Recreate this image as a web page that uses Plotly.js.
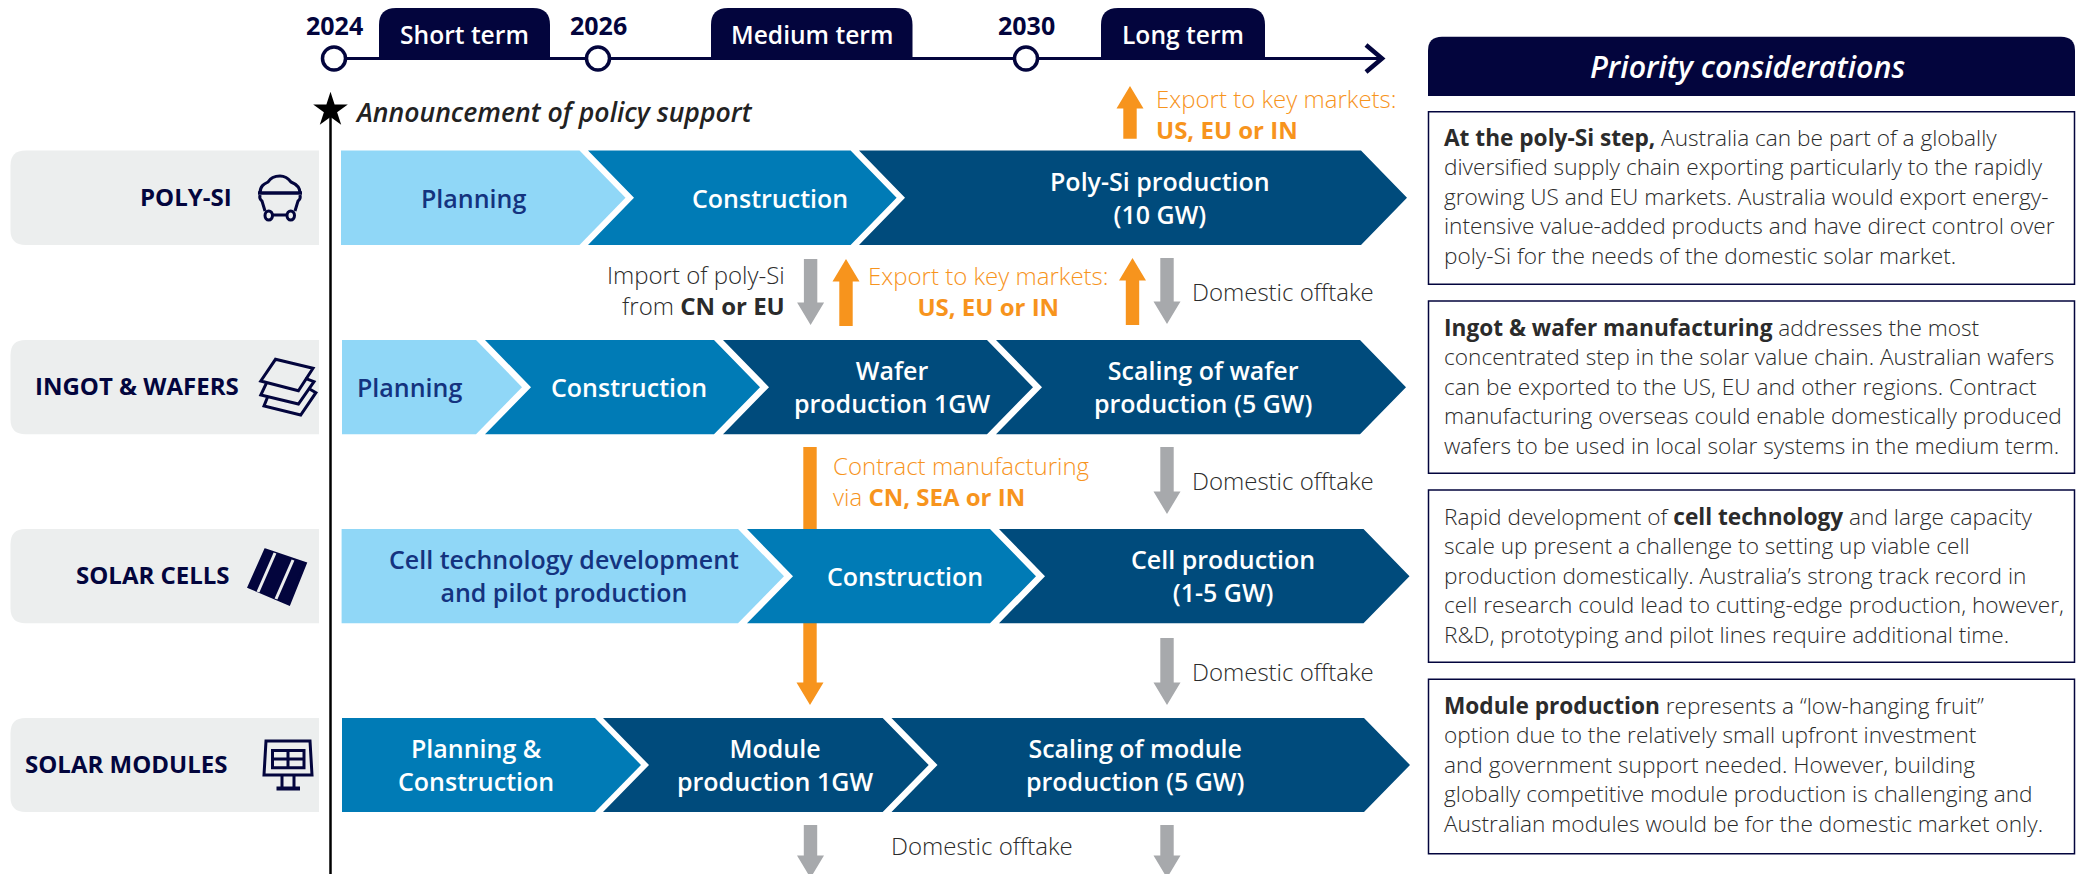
<!DOCTYPE html>
<html>
<head>
<meta charset="utf-8">
<script src="https://cdn.plot.ly/plotly-3.0.1.min.js"></script>
<style>html,body{margin:0;padding:0;background:#fff;overflow:hidden}#chart{width:2076px;height:874px}</style>
</head>
<body>
<div id="chart"></div>
<script>
// ---------- content ----------
const years = ['2024', '2026', '2030'];
const yearPositions = [334, 598, 1026];
const terms = ['Short term', 'Medium term', 'Long term'];
const termStarts = [379, 711, 1101];
const termEnds = [550, 912.5, 1265];

const rowLabels = ['POLY-SI', 'INGOT & WAFERS', 'SOLAR CELLS', 'SOLAR MODULES'];
const rowTops = [150.5, 340, 529, 718];
const rowBottoms = [245, 434.3, 623.3, 812];
const rowLabelEnds = [232, 239, 230, 227];

const polySiStages = ['Planning', 'Construction', 'Poly-Si production<br>(10 GW)'];
const polySiTones = ['light', 'mid', 'dark'];
const polySiStarts = [341, 588, 859];
const polySiEnds = [579.5, 850.6, 1361];
const polySiCentres = [473, 769.5, 1160];

const waferStages = ['Planning', 'Construction', 'Wafer<br>production 1GW', 'Scaling of wafer<br>production (5 GW)'];
const waferTones = ['light', 'mid', 'dark', 'dark'];
const waferStarts = [342, 485, 723, 996];
const waferEnds = [476, 714, 987, 1360];
const waferCentres = [409.5, 629, 892, 1202.7];

const cellStages = ['Cell technology development<br>and pilot production', 'Construction', 'Cell production<br>(1-5 GW)'];
const cellTones = ['light', 'mid', 'dark'];
const cellStarts = [341.6, 747, 999];
const cellEnds = [738, 990, 1363.5];
const cellCentres = [564, 905, 1223.4];

const moduleStages = ['Planning &<br>Construction', 'Module<br>production 1GW', 'Scaling of module<br>production (5 GW)'];
const moduleTones = ['mid', 'dark', 'dark'];
const moduleStarts = [342, 603, 891.5];
const moduleEnds = [595, 882.7, 1364];
const moduleCentres = [476, 775, 1134.8];

// flows: x, from y, to y, tone
const flowX     = [1130, 810.6, 846, 1132.5, 1167, 810, 1167, 810, 1167, 810.5, 1167];
const flowFrom  = [138.7, 259, 326, 325, 258, 447, 447, 623, 638, 825, 825];
const flowTo    = [86, 325, 259, 258, 324, 529, 514, 705, 705, 878, 878];
const flowTones = ['o', 'g', 'o', 'o', 'g', 'bar', 'g', 'o', 'g', 'g', 'g'];

const considerationsTitle = 'Priority considerations';
const boxTops = [111.7, 301, 490, 679.3];
const boxBottoms = [284.3, 473.3, 662.3, 853.7];
const polySiText = ['<b>At the poly-Si step,</b> Australia can be part of a globally',
  'diversified supply chain exporting particularly to the rapidly',
  'growing US and EU markets. Australia would export energy-',
  'intensive value-added products and have direct control over',
  'poly-Si for the needs of the domestic solar market.'];
const waferText = ['<b>Ingot & wafer manufacturing</b> addresses the most',
  'concentrated step in the solar value chain. Australian wafers',
  'can be exported to the US, EU and other regions. Contract',
  'manufacturing overseas could enable domestically produced',
  'wafers to be used in local solar systems in the medium term.'];
const cellText = ['Rapid development of <b>cell technology</b> and large capacity',
  'scale up present a challenge to setting up viable cell',
  'production domestically. Australia’s strong track record in',
  'cell research could lead to cutting-edge production, however,',
  'R&D, prototyping and pilot lines require additional time.'];
const moduleText = ['<b>Module production</b> represents a “low-hanging fruit”',
  'option due to the relatively small upfront investment',
  'and government support needed. However, building',
  'globally competitive module production is challenging and',
  'Australian modules would be for the domestic market only.'];

// ---------- styling ----------
const NAVY = '#03053d', ORANGE = '#f7941d', GREY = '#a7a9ac', BODY = '#2b2b2b';
const TONE = {light: '#90d7f7', mid: '#007bb6', dark: '#004b7c'};
const TONE_TEXT = {light: '#14337f', mid: '#ffffff', dark: '#ffffff'};
const FONT = 'Open Sans';
const DEPTH = 46, NUDGE = -0.75;

const traces = [], shapes = [], annotations = [];

function label(text, x, y, size, color, anchor, weight, style) {
  annotations.push({text, x, y: y + NUDGE, xref: 'x', yref: 'y', showarrow: false, xanchor: anchor, yanchor: 'middle',
    borderpad: 0, borderwidth: 0, align: anchor,
    font: {family: FONT, size, color, weight: weight || 400, style: style || 'normal'}});
}

function rounded(x0, x1, y0, y1, r, fill) { // rounded top corners
  shapes.push({type: 'path', xref: 'x', yref: 'y', layer: 'below', fillcolor: fill, line: {width: 0},
    path: `M${x0},${y1} L${x0},${y0 + r} Q${x0},${y0} ${x0 + r},${y0} L${x1 - r},${y0} Q${x1},${y0} ${x1},${y0 + r} L${x1},${y1} Z`});
}

function polygon(name, xs, ys, fill) {
  traces.push({type: 'scatter', mode: 'lines', name, x: xs.concat(xs[0]), y: ys.concat(ys[0]), fill: 'toself',
    fillcolor: fill, line: {width: 0, color: fill}, hoverinfo: 'skip', showlegend: false});
}

// row backgrounds
rowTops.forEach((top, i) => {
  const bot = rowBottoms[i], x0 = 10.5, x1 = 319, r = 15;
  shapes.push({type: 'path', xref: 'x', yref: 'y', layer: 'below', fillcolor: '#eceeee', line: {width: 0},
    path: `M${x1},${top} L${x0 + r},${top} Q${x0},${top} ${x0},${top + r} L${x0},${bot - r} Q${x0},${bot} ${x0 + r},${bot} L${x1},${bot} Z`});
  label(rowLabels[i], rowLabelEnds[i], (top + bot) / 2 - 1, 24, NAVY, 'right', 700);
});

// timeline
traces.push({type: 'scatter', mode: 'lines', name: 'timeline', x: [334, 1382], y: [58.5, 58.5],
  line: {color: NAVY, width: 3}, hoverinfo: 'skip', showlegend: false});
traces.push({type: 'scatter', mode: 'lines', name: 'timeline head', x: [1366, 1382, 1366], y: [45, 58.5, 72],
  line: {color: NAVY, width: 4.5}, hoverinfo: 'skip', showlegend: false});
traces.push({type: 'scatter', mode: 'markers', name: 'years', x: yearPositions, y: yearPositions.map(() => 58.5),
  marker: {size: 23, color: '#ffffff', line: {color: NAVY, width: 3.5}}, hoverinfo: 'skip', showlegend: false});
years.forEach((y, i) => label(y, yearPositions[i], 25.25, 25, NAVY, 'center', 700));
terms.forEach((t, i) => {
  rounded(termStarts[i], termEnds[i], 8, 60, 17, NAVY);
  label(t, (termStarts[i] + termEnds[i]) / 2, 34.75, 24.6, '#ffffff', 'center', 600);
});

// policy marker
shapes.push({type: 'line', xref: 'x', yref: 'y', x0: 330.5, x1: 330.5, y0: 115, y1: 874, line: {color: '#000000', width: 2.5}});
traces.push({type: 'scatter', mode: 'markers', name: 'policy', x: [330.5], y: [110], marker: {symbol: 'star', size: 26, color: '#000000'},
  hoverinfo: 'skip', showlegend: false});
label('Announcement of policy support', 355, 112.25, 26.6, '#222222', 'left', 600, 'italic');

// flows (below the chevrons)
flowX.forEach((x, i) => {
  const from = flowFrom[i], to = flowTo[i], tone = flowTones[i];
  const fill = tone === 'g' ? GREY : ORANGE;
  const s = 6.7;
  if (tone === 'bar') { polygon('flow', [x - s, x + s, x + s, x - s], [from, from, to, to], fill); return; }
  const dir = Math.sign(to - from), base = to - dir * 22.5, h = 13.5;
  polygon('flow', [x - s, x + s, x + s, x + h, x, x - h, x - s], [from, from, base, base, to, base, base], fill);
});

// stages
function stageRow(row, stages, tones, starts, ends, centres) {
  const top = rowTops[row], bot = rowBottoms[row], mid = (top + bot) / 2;
  stages.forEach((st, i) => {
    const xs = [starts[i], ends[i], ends[i] + DEPTH, ends[i], starts[i]];
    const ys = [top, top, mid, bot, bot];
    if (i > 0) { xs.push(starts[i] + DEPTH); ys.push(mid); }
    polygon(st.replace('<br>', ' '), xs, ys, TONE[tones[i]]);
    label(st, centres[i], mid + 0.5, 25, TONE_TEXT[tones[i]], 'center', 600);
  });
}
stageRow(0, polySiStages, polySiTones, polySiStarts, polySiEnds, polySiCentres);
stageRow(1, waferStages, waferTones, waferStarts, waferEnds, waferCentres);
stageRow(2, cellStages, cellTones, cellStarts, cellEnds, cellCentres);
stageRow(3, moduleStages, moduleTones, moduleStarts, moduleEnds, moduleCentres);

// flow captions
const LIGHT = 300, CAP = 24;
label('Export to key markets:<br><b>US, EU or IN</b>', 1155.5, 114.5, CAP, ORANGE, 'left', LIGHT);
label('Import of poly-Si<br>from <b>CN or EU</b>', 785, 291, CAP, BODY, 'right', LIGHT);
label('Export to key markets:<br><b>US, EU or IN</b>', 988, 291.5, CAP, ORANGE, 'center', LIGHT);
label('Contract manufacturing<br>via <b>CN, SEA or IN</b>', 833, 482, CAP, ORANGE, 'left', LIGHT);
label('Domestic offtake', 1191.7, 292, CAP, BODY, 'left', LIGHT);
label('Domestic offtake', 1191.7, 481.7, CAP, BODY, 'left', LIGHT);
label('Domestic offtake', 1191.7, 672, CAP, BODY, 'left', LIGHT);
label('Domestic offtake', 891, 846, CAP, BODY, 'left', LIGHT);

// right panel
rounded(1428, 2075, 36.7, 96, 14, NAVY);
label(considerationsTitle, 1747, 66.75, 30.4, '#ffffff', 'center', 600, 'italic');
[polySiText, waferText, cellText, moduleText].forEach((lines, i) => {
  shapes.push({type: 'rect', xref: 'x', yref: 'y', x0: 1428.5, x1: 2074.5, y0: boxTops[i], y1: boxBottoms[i],
    line: {color: NAVY, width: 1.5}, fillcolor: 'rgba(0,0,0,0)'});
  label(lines.join('<br>'), 1444.4, boxTops[i] + 27.5 + 2 * 29.2, 22.65, BODY, 'left', LIGHT);
});

// icons
function icon(path, opts) {
  shapes.push(Object.assign({type: 'path', xref: 'x', yref: 'y', path, line: {color: NAVY, width: 3}, fillcolor: 'rgba(0,0,0,0)'}, opts || {}));
}
// mine cart
icon('M260,193 C260,186 264,184 268,182 C271,177 276,176 280,176 C285,176 288,178 291,182 C296,184 300,187 300,193');
icon('M258,193 L302,193', {line: {color: NAVY, width: 3.5}});
icon('M260,195 C259,199 261,200 262,201 L265,211 M300,195 C301,199 299,200 298,201 L295,211');
icon('M272,215 L287,215');
shapes.push({type: 'circle', xref: 'x', yref: 'y', x0: 265, x1: 272.5, y0: 211, y1: 220, line: {color: NAVY, width: 3}, fillcolor: 'rgba(0,0,0,0)'});
shapes.push({type: 'circle', xref: 'x', yref: 'y', x0: 287, x1: 294.5, y0: 211, y1: 220, line: {color: NAVY, width: 3}, fillcolor: 'rgba(0,0,0,0)'});
// wafers
icon('M275.5,359.3 L313,368.3 L298.4,390.7 L260.8,381 Z');
icon('M266.3,383.3 L260.8,395 L298.4,404 L314,381.7 L305.3,378.3');
icon('M267.7,396.7 L264,406 L300.7,415 L315.9,392.7 L310,389.3');
// cell
icon('M265.4,550 L305.3,563.3 L289,604 L249,587 Z', {fillcolor: NAVY, line: {color: NAVY, width: 3}});
icon('M275,553 L258,592', {line: {color: '#eceeee', width: 3}});
icon('M293,560 L276,599', {line: {color: '#eceeee', width: 3}});
// panel
icon('M266,741 L310,741 L312,775 L264,775 Z');
icon('M272.5,750.5 L304,750.5 L304,767.7 L272.5,767.7 Z M288,750.5 L288,767.7 M272.5,759 L304,759');
icon('M282,775 L282,788 M294,775 L294,788');
icon('M276.5,788.5 L300,788.5', {line: {color: NAVY, width: 4}});

const layout = {
  width: 2076, height: 874,
  margin: {l: 0, r: 0, t: 0, b: 0, pad: 0},
  paper_bgcolor: '#ffffff', plot_bgcolor: '#ffffff',
  showlegend: false, hovermode: false,
  xaxis: {range: [0, 2076], visible: false, fixedrange: true},
  yaxis: {range: [874, 0], visible: false, fixedrange: true},
  shapes, annotations
};
Plotly.newPlot('chart', traces, layout, {displayModeBar: false, staticPlot: true});
</script>
</body>
</html>
